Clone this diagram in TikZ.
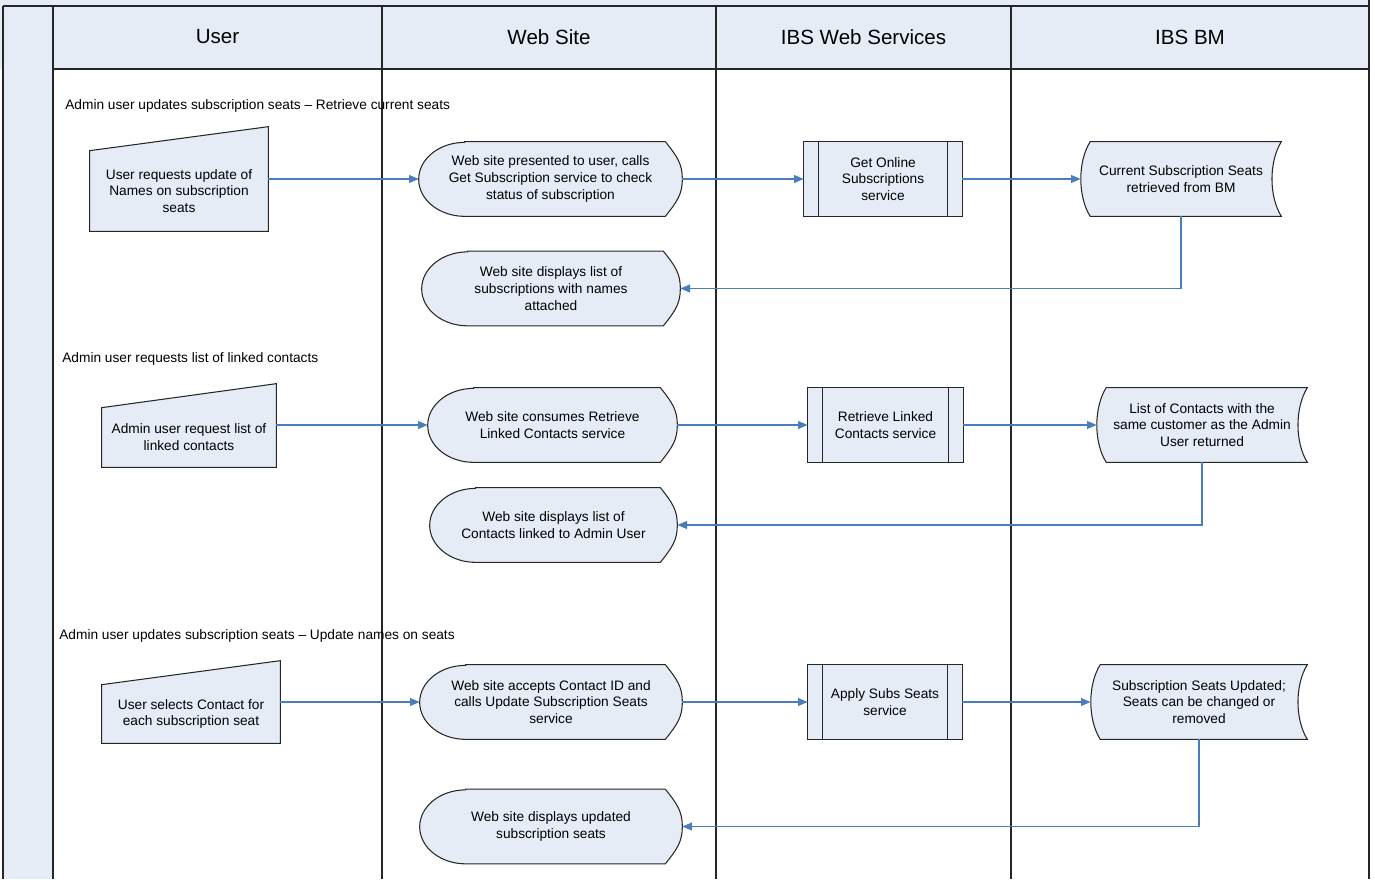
\documentclass[tikz,border=0pt]{standalone}
\usepackage{fontspec}
\setmainfont{Liberation Sans}
\usetikzlibrary{arrows.meta, backgrounds}
\definecolor{lanefill}{HTML}{E6ECF6}
\definecolor{flowblue}{HTML}{4A7EBB}
\definecolor{edgegray}{HTML}{262626}

\begin{document}
\begin{tikzpicture}[x=0.02cm, y=-0.02cm,
every node/.style={font=\fontsize{7.8}{9.6}\selectfont, align=center, inner sep=0pt},
minput/.style={minimum height=1.6cm},
disp/.style={minimum height=1.48cm},
predef/.style={minimum height=1.48cm},
stored/.style={minimum height=1.48cm},
shp/.style={draw=edgegray, fill=lanefill, line width=0.6pt},
pool/.style={draw=edgegray, line width=1pt},
flow/.style={draw=flowblue, line width=0.6pt, -{Triangle[length=5.5pt,width=4.5pt]}},
head/.style={font=\fontsize{11.7}{14}\selectfont},
sect/.style={anchor=west}]
\useasboundingbox (0,0) rectangle (1375,879);

% pool and lanes
\fill[lanefill] (0,0) rectangle (1369,69);
\fill[lanefill] (3,0) rectangle (53,879);
\draw[pool] (3,6) -- (1369,6);
\draw[pool] (53,69) -- (1369,69);
\draw[pool] (3,6) -- (3,879);
\draw[pool] (1369,0) -- (1369,879);
\foreach \x in {53,382,716,1011}
  \draw[pool] (\x,6) -- (\x,879);
\foreach \a/\b/\t [count=\i] in {53/382/User, 382/716/Web Site, 716/1011/IBS Web Services, 1011/1369/IBS BM}
  \node[head] (h\i) at ({(\a+\b)/2},37) {\t};

% retrieve current seats
\node[sect] (s1) at (65,106) {Admin user updates subscription seats \textendash{} Retrieve current seats};
\node[minput, minimum width=3.56cm] (1) at (179,191) {User requests update of\\Names on subscription\\seats};
\node[disp, minimum width=5.26cm] (2) at (550.5,179) {Web site presented to user, calls\\Get Subscription service to check\\status of subscription};
\node[predef, minimum width=3.16cm] (3) at (883,179) {Get Online\\Subscriptions\\service};
\node[stored, minimum width=4cm] (4) at (1181,179) {Current Subscription Seats\\retrieved from BM};
\node[disp, minimum width=5.16cm] (5) at (551,288.5) {Web site displays list of\\subscriptions with names\\attached};

% linked contacts
\node[sect] (s2) at (62,359) {Admin user requests list of linked contacts};
\node[minput, minimum width=3.48cm, minimum height=1.18cm] (6) at (189,437.5) {Admin user request list of\\linked contacts};
\node[disp, minimum width=4.98cm] (7) at (552.5,425) {Web site consumes Retrieve\\Linked Contacts service};
\node[predef, minimum width=3.1cm] (8) at (885.5,425) {Retrieve Linked\\Contacts service};
\node[stored, minimum width=4.2cm] (9) at (1202,425) {List of Contacts with the\\same customer as the Admin\\User returned};
\node[disp, minimum width=4.94cm] (10) at (553.5,525) {Web site displays list of\\Contacts linked to Admin User};

% update names on seats
\node[sect] (s3) at (59,636) {Admin user updates subscription seats \textendash{} Update names on seats};
\node[minput, minimum width=3.56cm, minimum height=1.16cm] (11) at (191,714) {User selects Contact for\\each subscription seat};
\node[disp, minimum width=5.24cm] (12) at (551,702) {Web site accepts Contact ID and\\calls Update Subscription Seats\\service};
\node[predef, minimum width=3.08cm] (13) at (885,702) {Apply Subs Seats\\service};
\node[stored, minimum width=4.32cm] (14) at (1199,702) {Subscription Seats Updated;\\Seats can be changed or\\removed};
\node[disp, minimum width=5.24cm] (15) at (551,826.5) {Web site displays updated\\subscription seats};

% shapes behind the texts
\begin{scope}[on background layer]
\foreach \n in {1,6,11}
  \draw[shp] (\n.south west) -- (\n.north west) -- ([yshift=0.48cm]\n.north east) -- (\n.south east) -- cycle;
\foreach \n in {2,5,7,10,12,15}
  \draw[shp] ([xshift=0.92cm]\n.north west) -- ([xshift=-0.34cm]\n.north east)
    .. controls ([xshift=-0.1cm,yshift=-0.3cm]\n.north east) and ([yshift=0.3cm]\n.east) .. (\n.east)
    .. controls ([yshift=-0.3cm]\n.east) and ([xshift=-0.1cm,yshift=0.3cm]\n.south east) .. ([xshift=-0.34cm]\n.south east)
    -- ([xshift=0.92cm]\n.south west) arc[start angle=270, end angle=90, x radius=0.92cm, y radius=0.74cm] -- cycle;
\foreach \n in {3,8,13} {
  \draw[shp] (\n.south west) rectangle (\n.north east);
  \draw[shp] ([xshift=0.3cm]\n.south west) -- ([xshift=0.3cm]\n.north west);
  \draw[shp] ([xshift=-0.3cm]\n.south east) -- ([xshift=-0.3cm]\n.north east);
}
\foreach \n in {4,9,14}
  \draw[shp] ([xshift=0.19cm]\n.north west) -- (\n.north east)
    .. controls ([xshift=-0.25cm,yshift=-0.4cm]\n.north east) and ([xshift=-0.25cm,yshift=0.4cm]\n.south east) .. (\n.south east)
    -- ([xshift=0.19cm]\n.south west)
    .. controls ([xshift=-0.06cm,yshift=0.4cm]\n.south west) and ([xshift=-0.06cm,yshift=-0.4cm]\n.north west) .. ([xshift=0.19cm]\n.north west) -- cycle;
\end{scope}

% connectors
\draw[flow] (1.east |- 2.west) -- (2.west);
\draw[flow] (2.east) -- (3.west);
\draw[flow] (3.east) -- (4.west);
\draw[flow] (4.south) |- (5.east);
\draw[flow] (6.east |- 7.west) -- (7.west);
\draw[flow] (7.east) -- (8.west);
\draw[flow] (8.east) -- (9.west);
\draw[flow] (9.south) |- (10.east);
\draw[flow] (11.east |- 12.west) -- (12.west);
\draw[flow] (12.east) -- (13.west);
\draw[flow] (13.east) -- (14.west);
\draw[flow] (14.south) |- (15.east);
\end{tikzpicture}
\end{document}
